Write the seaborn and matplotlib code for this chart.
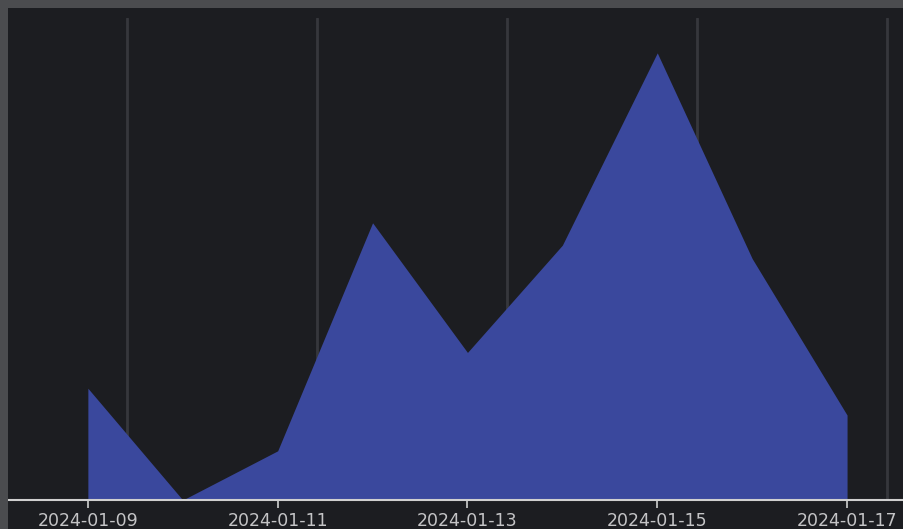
import matplotlib
matplotlib.use("Agg")
import matplotlib.pyplot as plt
import matplotlib.dates as mdates
import numpy as np
import pandas as pd
import seaborn as sns
from matplotlib.patches import Rectangle

# データ
dates = pd.date_range("2024-01-09", "2024-01-17", freq="D")
values = [25, 0, 11, 62, 33, 57, 100, 54, 19]
tick_dates = dates[::2]

df = pd.DataFrame({"date": dates, "value": values})

sns.set_theme(style="dark")
plt.rcParams["font.family"] = ["DejaVu Sans"]

bg = "#1c1d21"
fig = plt.figure(figsize=(9.04, 5.29), dpi=100)
fig.patch.set_facecolor(bg)

# 枠（上と左のグレー）
fig.patches.append(Rectangle((0, 1 - 8 / 529), 1, 8 / 529, transform=fig.transFigure,
                             facecolor="#4b4c4f", edgecolor="none", zorder=0))
fig.patches.append(Rectangle((0, 0), 8 / 904, 1, transform=fig.transFigure,
                             facecolor="#4b4c4f", edgecolor="none", zorder=0))

ax = fig.add_axes([8 / 904, 29 / 529, 896 / 904, 482 / 529])
ax.set_facecolor(bg)

sns.lineplot(data=df, x="date", y="value", ax=ax, linewidth=0)
ax.fill_between(df["date"], 0, df["value"], color="#3a489d", linewidth=0, zorder=2)

ax.set_xlim(dates[0] - pd.Timedelta(hours=20.2), dates[-1] + pd.Timedelta(hours=14.4))
ax.set_ylim(0, 107.8)

ax.set_xticks(tick_dates)
ax.xaxis.set_major_formatter(mdates.DateFormatter("%Y-%m-%d"))
grid_pos = pd.date_range("2024-01-09 10:00", periods=5, freq="2D")
ax.xaxis.set_minor_locator(matplotlib.ticker.FixedLocator(mdates.date2num(grid_pos)))
ax.grid(False)
ax.grid(True, which="minor", axis="x", color="#36373c", linewidth=2)
ax.tick_params(axis="x", which="minor", length=0)
ax.tick_params(axis="x", which="major", length=6, width=1.2, color="#d0d0d0",
               labelcolor="#c4c4c6", labelsize=12.5, pad=3, bottom=True)
ax.set_yticks([])
ax.set_xlabel("")
ax.set_ylabel("")

for s in ["top", "right", "left"]:
    ax.spines[s].set_visible(False)
ax.spines["bottom"].set_color("#d0d0d0")
ax.spines["bottom"].set_linewidth(1.5)
ax.spines["bottom"].set_zorder(3)

fig.savefig("out.png", dpi=100, facecolor=bg)
